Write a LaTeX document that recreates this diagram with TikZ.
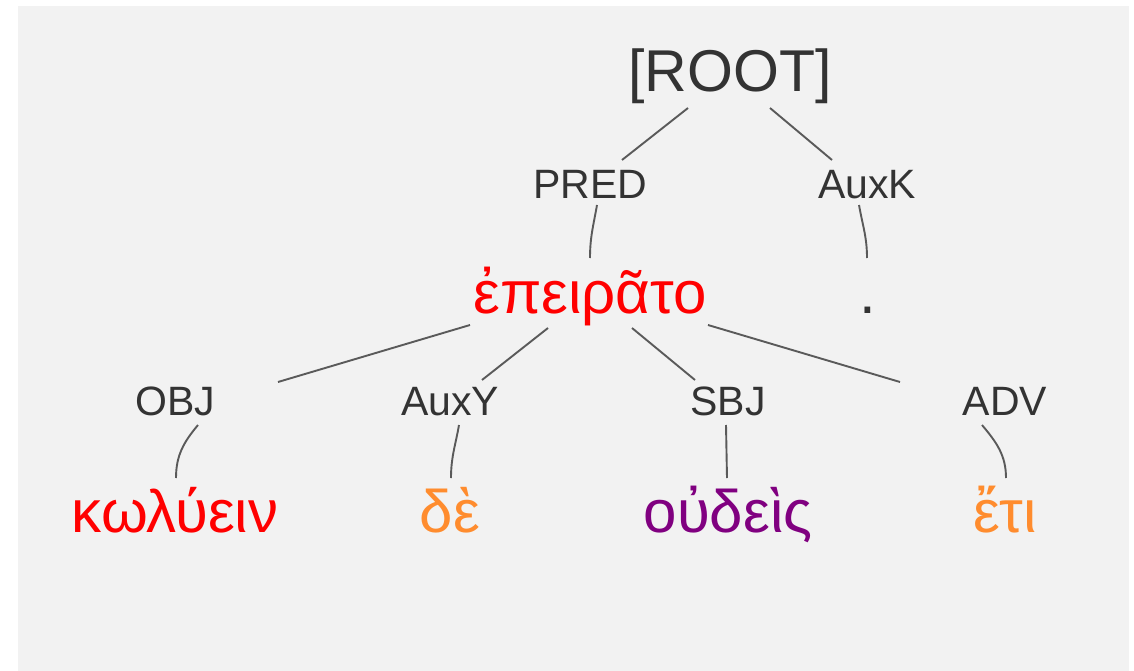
\documentclass[tikz,border=0pt]{standalone}
\usepackage{fontspec}
\setmainfont{Liberation Sans}
\usetikzlibrary{calc}
\definecolor{treebg}{HTML}{F2F2F2}
\definecolor{labelgray}{HTML}{333333}
\definecolor{linkgray}{HTML}{5A5A5A}
\definecolor{wordred}{HTML}{FF0000}
\definecolor{wordorange}{HTML}{FF8C2E}
\definecolor{wordpurple}{HTML}{800080}

\begin{document}
\begin{tikzpicture}[x=1pt, y=1pt,
  wordnode/.style={inner sep=0pt, anchor=base, font=\fontsize{60}{66}\selectfont},
  relnode/.style={inner sep=0pt, anchor=base, text=labelgray, font=\fontsize{41}{46}\selectfont},
  link/.style={linkgray, line width=1.9pt}
]
  \useasboundingbox (0,0) rectangle (1134,-671);
  \fill[treebg] (18,-6) rectangle (1129,-671);

  % root and first level
  \node[relnode, font=\fontsize{59}{64}\selectfont] (root) at (730,-92) {[ROOT]};
  \node[relnode] (pred) at (590,-198) {PRED};
  \node[relnode] (auxk) at (867,-198) {AuxK};
  \node[wordnode, text=wordred] (epeirato) at (590,-313) {ἐπειρᾶτο};
  \node[wordnode, text=labelgray] (stop) at (868,-313) {.};

  % dependents of the verb
  \node[relnode] (obj) at (175,-415) {OBJ};
  \node[relnode] (auxy) at (450,-415) {AuxY};
  \node[relnode] (sbj) at (728,-415) {SBJ};
  \node[relnode] (adv) at (1005,-415) {ADV};
  \node[wordnode, text=wordred] (kolyein) at (175,-532) {κωλύειν};
  \node[wordnode, text=wordorange] (de) at (450,-532) {δὲ};
  \node[wordnode, text=wordpurple] (oudeis) at (728,-532) {οὐδεὶς};
  \node[wordnode, text=wordorange] (eti) at (1005,-532) {ἔτι};

  \draw[link] ($(root.base)+(-42,-16)$) -- ($(pred.base)+(32,38)$);
  \draw[link] ($(root.base)+(40,-16)$) -- ($(auxk.base)+(-35,38)$);
  \draw[link] ($(pred.base)+(7,-7)$) to[out=-100, in=90] ($(epeirato.base)+(0,55)$);
  \draw[link] ($(auxk.base)+(-8,-7)$) to[out=-80, in=90] ($(stop.base)+(-1,55)$);

  \draw[link] ($(epeirato.base)+(-120,-12)$) -- ($(obj.base)+(103,33)$);
  \draw[link] ($(epeirato.base)+(-42,-15)$) -- ($(auxy.base)+(32,35)$);
  \draw[link] ($(epeirato.base)+(42,-15)$) -- ($(sbj.base)+(-33,35)$);
  \draw[link] ($(epeirato.base)+(118,-12)$) -- ($(adv.base)+(-105,33)$);

  \draw[link] ($(obj.base)+(23,-10)$) to[out=-130, in=90] ($(kolyein.base)+(1,54)$);
  \draw[link] ($(auxy.base)+(9,-10)$) to[out=-100, in=90] ($(de.base)+(1,54)$);
  \draw[link] ($(sbj.base)+(-2,-10)$) -- ($(oudeis.base)+(-1,54)$);
  \draw[link] ($(adv.base)+(-23,-10)$) to[out=-50, in=90] ($(eti.base)+(1,54)$);
\end{tikzpicture}
\end{document}
